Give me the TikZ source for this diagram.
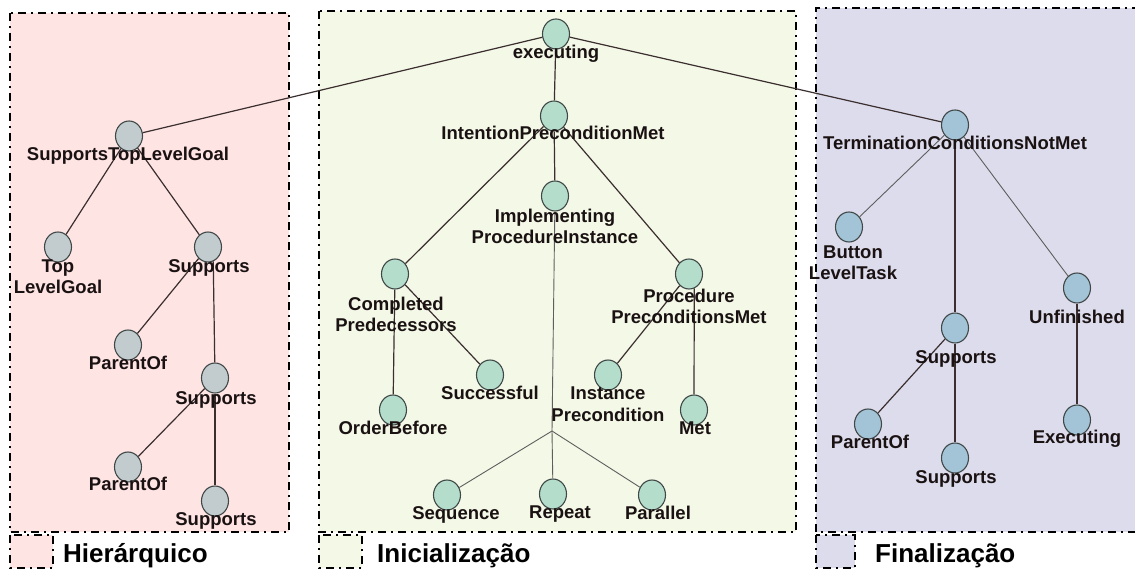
\documentclass[tikz,border=0pt]{standalone}
\usepackage{fontspec}
\setmainfont{Liberation Sans}
\usetikzlibrary{shapes.geometric}

\definecolor{hbg}{HTML}{FFE4E4}
\definecolor{ibg}{HTML}{F4F8E7}
\definecolor{fbg}{HTML}{DDDCEC}
\definecolor{hfill}{HTML}{C2CBCE}
\definecolor{ifill}{HTML}{B4DDCB}
\definecolor{ffill}{HTML}{A3C4D7}
\definecolor{nodeline}{HTML}{3F4747}
\definecolor{edgecol}{HTML}{3A2E2E}
\definecolor{edgegray}{HTML}{5E5E5E}
\definecolor{txt}{HTML}{1A1212}

\begin{document}
\begin{tikzpicture}[x=1pt,y=-1pt,
  region/.style={draw=black, line width=1.8pt, dash pattern=on 8pt off 5pt on 2pt off 5pt},
  legbox/.style={draw=black, line width=1.5pt, dash pattern=on 8pt off 5pt on 2pt off 5pt},
  tnode/.style={ellipse, draw=nodeline, line width=1.1pt, minimum width=27pt, minimum height=30pt, inner sep=0pt},
  hnode/.style={tnode, fill=hfill},
  inode/.style={tnode, fill=ifill},
  fnode/.style={tnode, fill=ffill},
  lbl/.style={font=\bfseries\fontsize{18.5}{21.5}\selectfont, text=txt, inner sep=0pt, anchor=base},
  lbltwo/.style={font=\bfseries\fontsize{18.5}{21.5}\selectfont, text=txt, inner sep=0pt, anchor=center, align=center},
  legtxt/.style={font=\bfseries\fontsize{26}{30}\selectfont, text=black, inner sep=0pt, anchor=base west},
  edge/.style={draw=edgecol, line width=1.2pt},
  thinedge/.style={draw=edgegray, line width=0.9pt}
]
\useasboundingbox (0,0) rectangle (1135,569);

% regions
\draw[region, fill=hbg] (10,13) rectangle (289,532);
\draw[region, fill=ibg] (319,11) rectangle (796,532);
\fill[fbg] (816,8) rectangle (1135,532);
\draw[region] (1140,8) -- (816,8) -- (816,532) -- (1140,532);

% legend
\draw[legbox, fill=hbg] (10,535) rectangle (53,568);
\draw[legbox, fill=ibg] (319,535) rectangle (362,568);
\draw[legbox, fill=fbg] (816,535) rectangle (855,568);
\node[legtxt] (leg-h) at (63,562) {Hierárquico};
\node[legtxt] (leg-i) at (377,562) {Inicialização};
\node[legtxt] (leg-f) at (875,562) {Finalização};

% hierarchical tree
\node[hnode] (stlg) at (129,136) {};
\node[hnode] (tlg) at (58,247) {};
\node[hnode] (hs1) at (208,247) {};
\node[hnode] (hp1) at (128,345) {};
\node[hnode] (hs2) at (215,378) {};
\node[hnode] (hp2) at (128,467) {};
\node[hnode] (hs3) at (215,501) {};

% initialization tree
\node[inode] (exec) at (556,34) {};
\node[inode] (ipm) at (554,116) {};
\node[inode] (ipi) at (555,196) {};
\node[inode] (cp) at (395,274) {};
\node[inode] (ppm) at (689,274) {};
\node[inode] (ob) at (393,410) {};
\node[inode] (suc) at (490,375) {};
\node[inode] (ip) at (608,375) {};
\node[inode] (met) at (694,410) {};
\coordinate (jn) at (552,431);
\node[inode] (seq) at (447,495) {};
\node[inode] (rep) at (553,494) {};
\node[inode] (par) at (652,495) {};

% finalization tree
\node[fnode] (tcnm) at (955,125) {};
\node[fnode] (blt) at (849,227) {};
\node[fnode] (fs1) at (955,328) {};
\node[fnode] (unf) at (1077,288) {};
\node[fnode] (fp) at (868,424) {};
\node[fnode] (fs2) at (955,458) {};
\node[fnode] (fex) at (1077,420) {};

% connectors
\draw[edge] (exec) -- (stlg);
\draw[edge] (exec) -- (ipm);
\draw[edge] (exec) -- (tcnm);

\draw[edge] (stlg) -- (tlg);
\draw[edge] (stlg) -- (hs1);
\draw[edge] (hs1) -- (hp1);
\draw[edge] (hs1.290) -- (hs2);
\draw[edge] (hs2) -- (hp2);
\draw[edge] (hs2) -- (hs3);

\draw[edge] (ipm) -- (cp);
\draw[edge] (ipm) -- (ipi);
\draw[edge] (ipm) -- (ppm);
\draw[thinedge] (ipi) -- (jn);
\draw[thinedge] (jn) -- (seq);
\draw[thinedge] (jn) -- (rep);
\draw[thinedge] (jn) -- (par);
\draw[edge] (cp) -- (ob);
\draw[edge] (cp) -- (suc);
\draw[edge] (ppm) -- (ip);
\draw[edge] (ppm.290) -- (met);

\draw[thinedge] (tcnm) -- (blt);
\draw[edge] (tcnm) -- (fs1);
\draw[thinedge] (tcnm) -- (unf);
\draw[edge] (fs1) -- (fp);
\draw[edge] (fs1) -- (fs2);
\draw[edge] (unf) -- (fex);

% labels
\node[lbl] (stlg-l) at (128,161) {SupportsTopLevelGoal};
\node[lbltwo] (tlg-l) at (58,276.5) {Top\\LevelGoal};
\node[lbl] (hs1-l) at (209,272.5) {Supports};
\node[lbl] (hp1-l) at (128,369.5) {ParentOf};
\node[lbl] (hs2-l) at (216,404.5) {Supports};
\node[lbl] (hp2-l) at (128,490.5) {ParentOf};
\node[lbl] (hs3-l) at (216,525.5) {Supports};

\node[lbl] (exec-l) at (556,58.5) {executing};
\node[lbl] (ipm-l) at (553,139.5) {IntentionPreconditionMet};
\node[lbltwo] (ipi-l) at (555,226.5) {Implementing\\ProcedureInstance};
\node[lbltwo] (cp-l) at (396,314.5) {Completed\\Predecessors};
\node[lbltwo] (ppm-l) at (689,306.5) {Procedure\\PreconditionsMet};
\node[lbl] (ob-l) at (393,434.5) {OrderBefore};
\node[lbl] (suc-l) at (490,399.5) {Successful};
\node[lbltwo] (ip-l) at (608,404) {Instance\\Precondition};
\node[lbl] (met-l) at (695,434.5) {Met};
\node[lbl] (seq-l) at (456,519.5) {Sequence};
\node[lbl] (rep-l) at (560,518.5) {Repeat};
\node[lbl] (par-l) at (658,519.5) {Parallel};

\node[lbl] (tcnm-l) at (955,149.5) {TerminationConditionsNotMet};
\node[lbltwo] (blt-l) at (853,262.5) {Button\\LevelTask};
\node[lbl] (fs1-l) at (956,363.5) {Supports};
\node[lbl] (unf-l) at (1077,323.5) {Unfinished};
\node[lbl] (fp-l) at (870,448.5) {ParentOf};
\node[lbl] (fs2-l) at (956,483.5) {Supports};
\node[lbl] (fex-l) at (1077,443.5) {Executing};
\end{tikzpicture}
\end{document}
